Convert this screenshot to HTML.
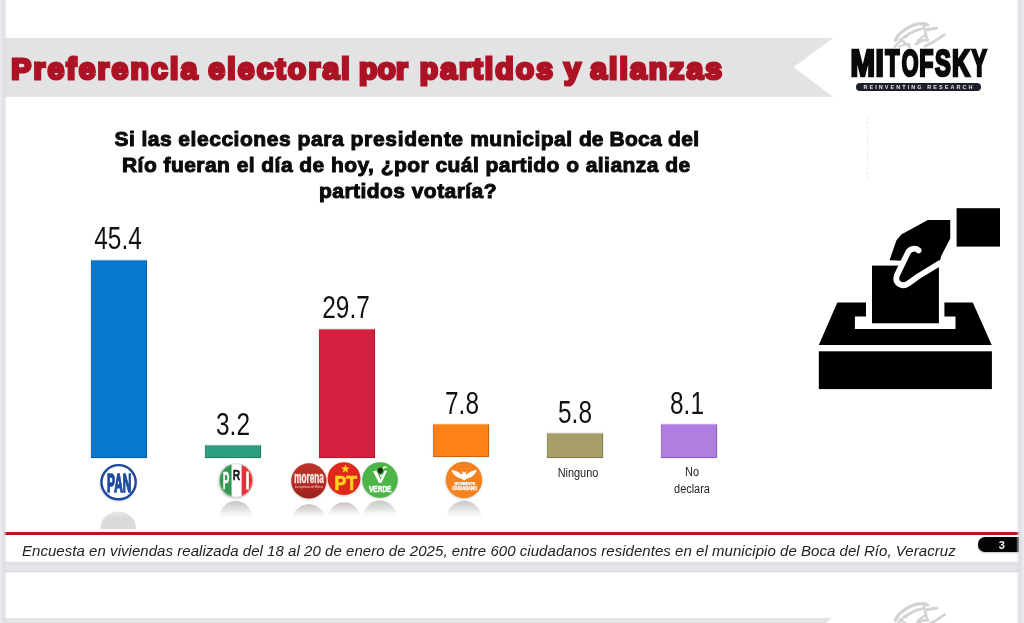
<!DOCTYPE html>
<html lang="es">
<head>
<meta charset="utf-8">
<title>Preferencia electoral por partidos y alianzas</title>
<style>
html,body{margin:0;padding:0;}
body{width:1024px;height:623px;overflow:hidden;background:#e6e6eb;position:relative;font-family:"Liberation Sans",sans-serif;}
.abs{position:absolute;}
#slide{left:3px;top:0;width:1016px;height:562px;background:#fff;}
#slide2{left:3px;top:572px;width:1016px;height:60px;background:#fff;}
#gap{left:0;top:561px;width:1024px;height:12px;background:linear-gradient(to bottom,rgba(255,255,255,0) 0,#dedee4 18%,#e5e5ea 40%,#e5e5ea 70%,#dcdce2 88%,rgba(255,255,255,0) 100%);}
#lstrip{left:0;top:0;width:7px;height:623px;background:linear-gradient(to right,#e8e8ed 0,#e8e8ed 28%,#dcdce2 52%,rgba(255,255,255,0) 100%);}
#rstrip{left:1016px;top:0;width:8px;height:623px;background:linear-gradient(to right,rgba(255,255,255,0) 0,#dcdce2 52%,#e7e7ec 75%,#e9e9ee 100%);}
#banner{left:4px;top:37.5px;width:830px;height:59px;}
.q{white-space:nowrap;font-weight:bold;font-size:21px;line-height:26px;color:#0a0a0a;-webkit-text-stroke:1px #0a0a0a;transform-origin:0 50%;letter-spacing:0.45px;}
.bar{position:absolute;box-shadow:inset 0 1px 0 rgba(255,255,255,.28),inset -1px -1px 0 rgba(0,0,0,.22),inset 1px 0 0 rgba(0,0,0,.08),0 0 2px rgba(0,0,0,.18);}
.val{position:absolute;white-space:nowrap;font-size:30.5px;line-height:30px;transform:scaleX(0.80);color:#111;transform-origin:50% 50%;text-align:center;}
.cat{position:absolute;white-space:nowrap;font-size:12px;line-height:17px;color:#222;transform:scaleX(0.91);text-align:center;transform-origin:50% 50%;}
#redline{left:4px;top:531.8px;width:1015px;height:3px;background:#b8141c;}
#foot{left:22px;top:541px;white-space:nowrap;font-style:italic;font-size:15px;line-height:20px;color:#222;transform-origin:0 50%;letter-spacing:0.045px;}
#pnum{left:977.8px;top:537px;width:41.3px;height:15.4px;background:#050505;border-radius:7px 0 0 7px;color:#f4f4f4;font-weight:bold;font-size:11px;line-height:17.2px;text-align:center;box-shadow:0 1px 2px rgba(0,0,0,.25);text-indent:6.6px;}

#pill{left:855.5px;top:82.7px;width:125px;height:8.3px;background:#1b202b;border-radius:5px;overflow:hidden;text-align:center;}
#pill span{display:block;color:#e8e8e8;font-weight:bold;font-size:5.5px;line-height:8.3px;letter-spacing:2.05px;white-space:nowrap;margin-left:2px;}
</style>
</head>
<body>
<div id="slide" class="abs"></div>
<div id="slide2" class="abs"></div>
<div id="gap" class="abs"></div>

<svg id="banner" class="abs" viewBox="0 0 830 59" width="830" height="59"><polygon points="0,0 829,0 789.7,29.3 829,58.8 0,58.8" fill="#e3e3e3"/></svg>
<svg class="abs" style="left:4px;top:37px;" width="830" height="59" viewBox="4 37 830 59"><text id="title" y="79.2" font-family="Liberation Sans, sans-serif" font-weight="bold" font-size="30" fill="#ae1225" stroke="#ae1225" stroke-width="3" stroke-linejoin="miter" stroke-miterlimit="2.5"><tspan x="11.2" letter-spacing="2.27">Preferencia </tspan><tspan x="208.2" letter-spacing="2.26">electoral </tspan><tspan x="359.0" letter-spacing="0.20">por </tspan><tspan x="419.7" letter-spacing="2.12">partidos </tspan><tspan x="564.0" letter-spacing="1.82">y </tspan><tspan x="590.2" letter-spacing="2.14">alianzas</tspan></text></svg>

<div id="q1" class="abs q" style="left:114.5px;top:126px;">Si las <span style="letter-spacing:0.54px">elecciones </span><span style="letter-spacing:0.57px">para </span><span style="letter-spacing:0.69px">presidente </span><span style="letter-spacing:0.48px">municipal </span><span style="letter-spacing:0.12px">de </span><span style="letter-spacing:0.23px">Boca </span>del</div>
<div id="q2" class="abs q" style="left:122px;top:152px;">Río fueran el día de hoy, ¿por cuál partido o alianza de</div>
<div id="q3" class="abs q" style="left:319px;top:178px;">partidos votaría?</div>

<div class="bar" style="left:91.2px;top:260px;width:55.8px;height:197.6px;background:#0878cc;"></div>
<div class="bar" style="left:204.8px;top:444.8px;width:56.3px;height:13px;background:#2e9e80;"></div>
<div class="bar" style="left:319.3px;top:328.6px;width:55.8px;height:129.6px;background:#d4203e;"></div>
<div class="bar" style="left:433.2px;top:424.4px;width:55.4px;height:32.6px;background:#fb8118;"></div>
<div class="bar" style="left:546.7px;top:433px;width:56.1px;height:24.8px;background:#a89f68;"></div>
<div class="bar" style="left:660.6px;top:423.6px;width:56.5px;height:34.2px;background:#b07ee0;"></div>

<div class="val" id="v1" style="left:78.1px;top:223px;width:80px;">45.4</div>
<div class="val" id="v2" style="left:192.5px;top:408.5px;width:80px;">3.2</div>
<div class="val" id="v3" style="left:306.2px;top:292px;width:80px;">29.7</div>
<div class="val" id="v4" style="left:422px;top:387.6px;width:80px;">7.8</div>
<div class="val" id="v5" style="left:535px;top:396.8px;width:80px;">5.8</div>
<div class="val" id="v6" style="left:647.4px;top:387.6px;width:80px;">8.1</div>

<div class="cat" id="c5" style="left:538px;top:465px;width:80px;">Ninguno</div>
<div class="cat" id="c6" style="left:652px;top:464px;width:80px;">No<br>declara</div>


<!-- MITOFSKY logo -->
<svg class="abs" style="left:885px;top:16px;" width="70" height="40" viewBox="885 16 70 40" fill="none" stroke="#d3d3d3" stroke-linecap="round" stroke-linejoin="round">
<g filter="url(#swb)">
<path d="M895.3,40.6 C897,36 899.5,33.5 902.3,31.5 C905.5,28.5 909.5,26.5 913.5,25.1 C917,24 920.5,23.6 923.4,23.7 C925.2,23.9 926.6,24.4 927.6,25.1" stroke-width="3.25"/>
<path d="M905,37.2 C907.5,34.5 910.5,32.8 913.5,31.5 C916.5,30.2 919.5,29.2 922.5,28.6" stroke-width="2.86"/>
<path d="M923.4,24.2 C924.4,28 925.3,32 926,35.7 C926.6,37.5 927.2,39.2 927.6,40.6" stroke-width="2.60"/>
<path d="M927.6,29.6 C930.5,29 933.8,28.5 936.7,28.2" stroke-width="3.12"/>
<path d="M916.3,44 C918.2,42.6 920,41.4 922,40.6 C924,40.2 926,40 927.6,40" stroke-width="2.99"/>
<path d="M917.8,40.6 C920.5,38.5 923.5,36.3 926.2,34.4" stroke-width="2.34"/>
<path d="M924.8,46.2 C927.8,44.8 930.6,43.4 933.2,42 C937,39.7 941,37.2 944.5,34.6" stroke-width="2.73"/>
<path d="M894.5,47 C898,43.2 901.5,39.5 905,35.7" stroke-width="2.34"/>
<path d="M900.2,39.2 C903.6,41.8 906.8,44.5 910,47" stroke-width="2.34"/>
<path d="M899,46.5 C903,45 906,44.2 909.5,44" stroke-width="2.08"/>
</g>
<defs><filter id="swb" x="-10%" y="-10%" width="120%" height="120%"><feGaussianBlur stdDeviation="0.6"/></filter></defs>
</svg>
<svg class="abs" style="left:885px;top:596px;" width="70" height="27" viewBox="885 16 70 27" fill="none" stroke="#d3d3d3" stroke-linecap="round" stroke-linejoin="round">
<g filter="url(#swb2)">
<path d="M895.3,40.6 C897,36 899.5,33.5 902.3,31.5 C905.5,28.5 909.5,26.5 913.5,25.1 C917,24 920.5,23.6 923.4,23.7 C925.2,23.9 926.6,24.4 927.6,25.1" stroke-width="3.25"/>
<path d="M905,37.2 C907.5,34.5 910.5,32.8 913.5,31.5 C916.5,30.2 919.5,29.2 922.5,28.6" stroke-width="2.86"/>
<path d="M923.4,24.2 C924.4,28 925.3,32 926,35.7 C926.6,37.5 927.2,39.2 927.6,40.6" stroke-width="2.60"/>
<path d="M927.6,29.6 C930.5,29 933.8,28.5 936.7,28.2" stroke-width="3.12"/>
<path d="M916.3,44 C918.2,42.6 920,41.4 922,40.6 C924,40.2 926,40 927.6,40" stroke-width="2.99"/>
<path d="M917.8,40.6 C920.5,38.5 923.5,36.3 926.2,34.4" stroke-width="2.34"/>
<path d="M924.8,46.2 C927.8,44.8 930.6,43.4 933.2,42 C937,39.7 941,37.2 944.5,34.6" stroke-width="2.73"/>
<path d="M894.5,47 C898,43.2 901.5,39.5 905,35.7" stroke-width="2.34"/>
<path d="M900.2,39.2 C903.6,41.8 906.8,44.5 910,47" stroke-width="2.34"/>
<path d="M899,46.5 C903,45 906,44.2 909.5,44" stroke-width="2.08"/>
</g>
<defs><filter id="swb2" x="-10%" y="-10%" width="120%" height="120%"><feGaussianBlur stdDeviation="0.6"/></filter></defs>
</svg>
<svg class="abs" style="left:4px;top:617.5px;" width="830" height="6" viewBox="0 0 830 6"><polygon points="0,0 828,0 821,6 0,6" fill="#e4e4e4"/></svg>
<svg class="abs" style="left:840px;top:40px;" width="160" height="46" viewBox="840 40 160 46" font-family="Liberation Sans, sans-serif" font-weight="bold" font-size="35.5" fill="#0a0a0a" stroke="#0a0a0a" stroke-width="2.6" stroke-linejoin="miter"><text transform="translate(850.42,75.9) scale(0.828,1.015)" x="0" y="0">M</text><text transform="translate(875.41,75.9) scale(0.844,1.015)" x="0" y="0">I</text><text transform="translate(885.15,75.9) scale(0.654,1.015)" x="0" y="0">T</text><text transform="translate(901.70,75.9) scale(0.607,1.015)" x="0" y="0">O</text><text transform="translate(919.35,75.9) scale(0.655,1.015)" x="0" y="0">F</text><text transform="translate(935.00,75.9) scale(0.667,1.015)" x="0" y="0">S</text><text transform="translate(952.10,75.9) scale(0.700,1.015)" x="0" y="0">K</text><text transform="translate(971.83,75.9) scale(0.635,1.015)" x="0" y="0">Y</text></svg>
<div id="pill" class="abs"><span>REINVENTING RESEARCH</span></div>

<!-- ballot box icon -->
<svg class="abs" style="left:810px;top:200px;" width="200" height="195" viewBox="810 200 200 195">
<rect x="956.6" y="208.2" width="43.4" height="38.4" fill="#000"/>
<rect x="818.8" y="351.3" width="173.1" height="37.8" fill="#000"/>
<polygon points="837.3,302.6 866,302.6 866,316.4 854.9,316.4 854.9,329 955.5,329 955.5,316.4 944.4,316.4 944.4,302.6 972.8,302.6 991.7,345 818.8,345" fill="#000"/>
<rect x="872" y="265.6" width="66.9" height="57.7" fill="#000"/>
<g transform="translate(870,200) scale(0.16051)">
<polygon points="500,125 360,125 195,215 165,250 122,375 205,378 165,470 175,520 215,535 290,480 430,395 445,345 500,240" fill="#000"/>
<path d="M303,314 C286,298 252,300 238,324 L168,468 C150,520 200,548 242,518 L300,476 L434,394" fill="none" stroke="#fff" stroke-width="36" stroke-linecap="round" stroke-linejoin="round"/>
</g>
</svg>


<!-- party logos -->
<svg class="abs" style="left:90px;top:458px;" width="400" height="74" viewBox="90 458 400 74" font-family="Liberation Sans, sans-serif">
<defs>
<linearGradient id="rf" x1="0" y1="0" x2="0" y2="1"><stop offset="0" stop-color="#c4c4c4" stop-opacity="0.95"/><stop offset="0.45" stop-color="#d6d6d6" stop-opacity="0.75"/><stop offset="1" stop-color="#f0f0f0" stop-opacity="0"/></linearGradient>
<linearGradient id="rf2" x1="0" y1="0" x2="0" y2="1"><stop offset="0" stop-color="#c9bcbc" stop-opacity="0.95"/><stop offset="0.45" stop-color="#d8d4d4" stop-opacity="0.75"/><stop offset="1" stop-color="#f0f0f0" stop-opacity="0"/></linearGradient>
<linearGradient id="rf3" x1="0" y1="0" x2="0" y2="1"><stop offset="0" stop-color="#bcc9bc" stop-opacity="0.95"/><stop offset="0.45" stop-color="#d4d8d4" stop-opacity="0.75"/><stop offset="1" stop-color="#f0f0f0" stop-opacity="0"/></linearGradient>
<linearGradient id="rfp" x1="0" y1="0" x2="0" y2="1"><stop offset="0" stop-color="#e2e2e2" stop-opacity="0.8"/><stop offset="0.4" stop-color="#d9d9d9"/><stop offset="1" stop-color="#dcdcdc"/></linearGradient>
<filter id="bl" x="-10%" y="-10%" width="120%" height="120%"><feGaussianBlur stdDeviation="0.6"/></filter>
<linearGradient id="gmor" x1="0" y1="0" x2="0" y2="1"><stop offset="0" stop-color="#bd352c"/><stop offset="0.6" stop-color="#b02a22"/><stop offset="1" stop-color="#98231c"/></linearGradient>
<clipPath id="cpri"><circle cx="236" cy="480.4" r="17"/></clipPath>
<filter id="sh" x="-20%" y="-20%" width="140%" height="140%"><feGaussianBlur stdDeviation="0.9"/></filter>
</defs>
<!-- reflections -->
<path d="M100.5,529 L100.5,528 A17.7,16.5 0 0 1 136,528 L136,529 Z" fill="url(#rfp)" filter="url(#bl)"/>
<path d="M219,518.5 A16.8,17.5 0 0 1 252.6,518.5 Z" fill="url(#rf)" filter="url(#bl)"/>
<path d="M292,519 A17,17.5 0 0 1 325.6,519 Z" fill="url(#rf2)" filter="url(#bl)"/>
<path d="M328,517 A16.4,17.5 0 0 1 360.4,517 Z" fill="url(#rf2)" filter="url(#bl)"/>
<path d="M362.8,518 A17,17.5 0 0 1 396.8,518 Z" fill="url(#rf3)" filter="url(#bl)"/>
<path d="M446.6,518.3 A17.5,17.5 0 0 1 481.6,518.3 Z" fill="url(#rf)" filter="url(#bl)"/>
<!-- PAN -->
<circle cx="118" cy="483.2" r="18" fill="#9aa3b5" opacity="0.6" filter="url(#sh)"/>
<circle cx="118.6" cy="482.2" r="17.1" fill="#fff" stroke="#1f4a9c" stroke-width="2.4"/>
<text x="119.2" y="492" text-anchor="middle" font-weight="bold" font-size="25.5" fill="#1f4a9c" stroke="#1f4a9c" stroke-width="1.6" textLength="24.2" lengthAdjust="spacingAndGlyphs">PAN</text>
<!-- PRI -->
<circle cx="235.6" cy="481.4" r="17.4" fill="#b0b0b0" opacity="0.6" filter="url(#sh)"/>
<g clip-path="url(#cpri)">
<rect x="218" y="463" width="13.7" height="35" fill="#2f9a4f"/>
<rect x="231.7" y="463" width="10" height="35" fill="#fff"/>
<rect x="241.7" y="463" width="13" height="35" fill="#e3323a"/>
</g>
<circle cx="236" cy="480.4" r="16.6" fill="none" stroke="#d8d8d8" stroke-width="0.8"/>
<text x="226" y="488.6" text-anchor="middle" font-weight="bold" font-size="24" fill="#fff" stroke="#fff" stroke-width="0.4" textLength="6.6" lengthAdjust="spacingAndGlyphs">P</text>
<text x="236.4" y="480" text-anchor="middle" font-weight="bold" font-size="15" fill="#1a1a1a" stroke="#1a1a1a" stroke-width="0.4" textLength="7.4" lengthAdjust="spacingAndGlyphs">R</text>
<text x="247.4" y="488.6" text-anchor="middle" font-weight="bold" font-size="24" fill="#fff" stroke="#fff" stroke-width="0.9" textLength="4" lengthAdjust="spacingAndGlyphs">I</text>
<!-- morena -->
<circle cx="308.6" cy="481.6" r="17.8" fill="#a9a0a0" opacity="0.55" filter="url(#sh)"/>
<circle cx="308.85" cy="480.9" r="17.6" fill="url(#gmor)"/>
<text x="309" y="483" text-anchor="middle" font-weight="bold" font-size="16.2" fill="#fbe9e6" stroke="#fbe9e6" stroke-width="0.5" textLength="29.4" lengthAdjust="spacingAndGlyphs">morena</text>
<text x="309" y="488" text-anchor="middle" font-weight="bold" font-size="3.2" fill="#e9b9b3" textLength="28" lengthAdjust="spacingAndGlyphs">La esperanza de México</text>
<!-- PT -->
<circle cx="344" cy="479.4" r="16.6" fill="#a9a0a0" opacity="0.55" filter="url(#sh)"/>
<circle cx="344" cy="478.6" r="16.4" fill="#df281c"/>
<polygon points="345.4,464.2 346.5,467.4 349.9,467.5 347.2,469.5 348.2,472.8 345.4,470.9 342.6,472.8 343.6,469.5 340.9,467.5 344.3,467.4" fill="#ffd21f"/>
<text x="345.8" y="490" text-anchor="middle" font-weight="bold" font-size="20" fill="#ffd21f" stroke="#ffd21f" stroke-width="0.7" textLength="22.6" lengthAdjust="spacingAndGlyphs">PT</text>
<!-- VERDE -->
<circle cx="380" cy="480.8" r="17.9" fill="#a0a9a0" opacity="0.55" filter="url(#sh)"/>
<circle cx="380" cy="480" r="17.8" fill="#4db548"/>
<path d="M373,471.2 L376.2,470.4 L380.6,479.6 L384.6,470.4 L387,471 L381.6,482.8 L378.8,482.8 Z" fill="#fff"/>
<path d="M379.6,475 L384.6,474.4 L384.4,476.4 L380.4,476.8 Z" fill="#fff"/>
<path d="M377.6,469.6 C378.2,467.2 381.4,466.6 382.6,468.6 C383.8,470.8 382.4,473.4 380.4,474 C378.6,473.2 377.2,471.6 377.6,469.6 Z" fill="#1f2a18"/>
<path d="M382.4,467.4 C384,465.8 386.6,466 387.6,467.4 C385.8,467.6 384.4,468.2 383.2,469.2 Z" fill="#e8f0d8"/>
<text x="380.2" y="491.6" text-anchor="middle" font-weight="bold" font-size="9.6" fill="#fff" stroke="#fff" stroke-width="0.5" textLength="22.6" lengthAdjust="spacingAndGlyphs">VERDE</text>
<!-- MC -->
<circle cx="463.8" cy="480.8" r="18.4" fill="#a9a4a0" opacity="0.55" filter="url(#sh)"/>
<circle cx="464" cy="479.9" r="18.2" fill="#f5821f"/>
<g transform="translate(0.4,-1.4)">
<path d="M451,471.5 C455,472 459,473.5 461.5,476.5 L462.3,472.5 L463.7,474.5 L465.1,472.5 L465.9,476.5 C468.4,473.5 472.4,472 476.4,471.5 C475.4,475.5 471.4,479 466.8,479.8 L463.7,482 L460.6,479.8 C456,479 452,475.5 451,471.5 Z" fill="#fff"/>
</g>
<text x="464.9" y="484.8" text-anchor="middle" font-weight="bold" font-size="3" fill="#fff" stroke="#fff" stroke-width="0.2" textLength="21" lengthAdjust="spacingAndGlyphs">MOVIMIENTO</text>
<text x="464.7" y="489.7" text-anchor="middle" font-weight="bold" font-size="4.6" fill="#fff" stroke="#fff" stroke-width="0.3" textLength="25" lengthAdjust="spacingAndGlyphs">CIUDADANO</text>
</svg>

<div id="redline" class="abs"></div>
<div id="foot" class="abs">Encuesta en viviendas realizada del 18 al 20 de enero de 2025, entre 600 ciudadanos residentes en el municipio de Boca del Río, Veracruz</div>
<div id="pnum" class="abs">3</div>
<div class="abs" style="left:867px;top:116px;width:0;height:64px;border-left:1.6px dashed #e9e9e9;"></div>
<div id="lstrip" class="abs"></div>
<div id="rstrip" class="abs"></div>
</body>
</html>
